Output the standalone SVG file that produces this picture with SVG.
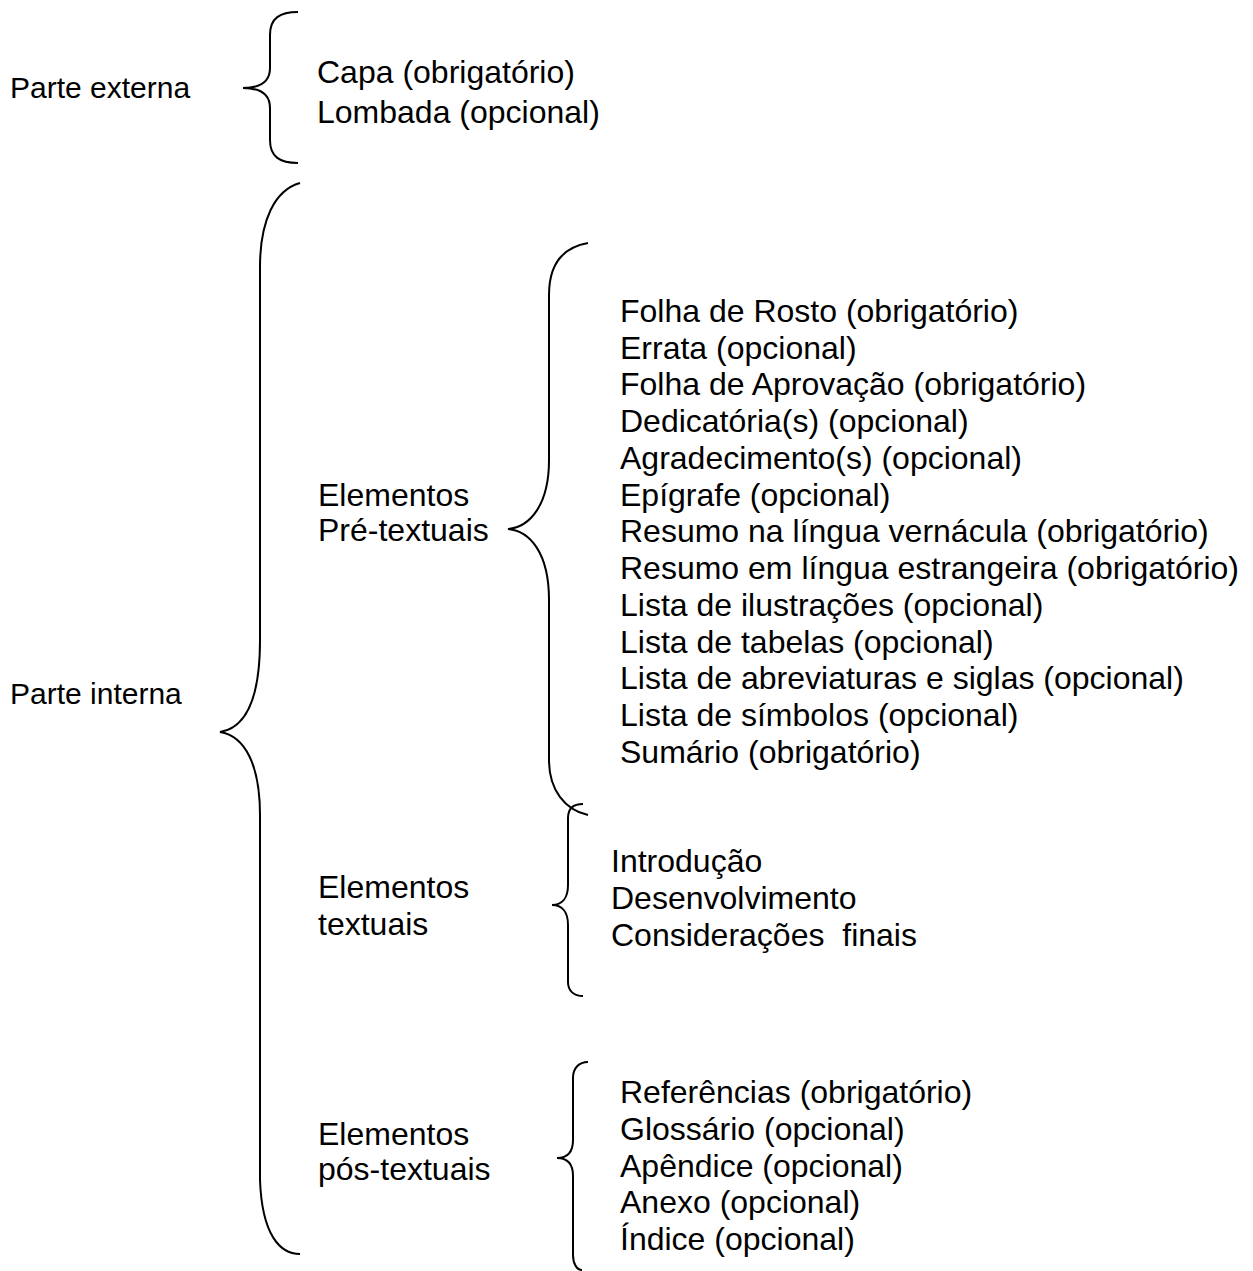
<svg xmlns="http://www.w3.org/2000/svg" width="1253" height="1271" viewBox="0 0 1253 1271">
<style>
text{font-family:"Liberation Sans",Arial,sans-serif;font-size:32px;fill:#000;white-space:pre}
.lbl{font-size:30px}
.brace{fill:none;stroke:#000;stroke-width:2}
</style>
<rect width="1253" height="1271" fill="#fff"/>
<g id="connectors">
<path class="brace" d="M298,12 C280,12 270,18 270,35 L270,68 C270,82 260,88 243,88 C260,88 270,94 270,108 L270,140 C270,157 280,163 298,163"/>
<path class="brace" d="M300,183 C275,190 260,220 260,267 L260,640 C260,700 245,728 220,732 C245,736 260,765 260,815 L260,1180 C262,1235 280,1254 300,1254"/>
<path class="brace" d="M588,243 C565,247 549,262 549,295 L549,460 C549,505 530,527 508,529 C530,531 549,553 549,600 L549,760 C549,790 565,810 588,815"/>
<path class="brace" d="M583,804 C574,804 568,808 568,818 L568,885 C568,898 562,905 552,905 C562,905 568,912 568,925 L568,982 C568,991 574,996 583,996"/>
<path class="brace" d="M588,1062 C579,1062 573,1068 573,1078 L573,1140 C573,1152 567,1158 557,1158 C567,1158 573,1164 573,1176 L573,1255 C573,1264 577,1270 582,1270"/>
</g>
<g id="parte-externa"><text class="lbl" x="10" y="98">Parte externa</text></g>
<g id="externa-itens">
<text x="317" y="83">Capa (obrigatório)</text>
<text x="317" y="123">Lombada (opcional)</text>
</g>
<g id="parte-interna"><text class="lbl" x="10" y="704">Parte interna</text></g>
<g id="pre-textuais">
<text x="318" y="506">Elementos</text>
<text x="318" y="541">Pré-textuais</text>
</g>
<g id="pre-itens">
<text x="620" y="322">Folha de Rosto (obrigatório)</text>
<text x="620" y="359">Errata (opcional)</text>
<text x="620" y="395">Folha de Aprovação (obrigatório)</text>
<text x="620" y="432">Dedicatória(s) (opcional)</text>
<text x="620" y="469">Agradecimento(s) (opcional)</text>
<text x="620" y="506">Epígrafe (opcional)</text>
<text x="620" y="542">Resumo na língua vernácula (obrigatório)</text>
<text x="620" y="579">Resumo em língua estrangeira (obrigatório)</text>
<text x="620" y="616">Lista de ilustrações (opcional)</text>
<text x="620" y="653">Lista de tabelas (opcional)</text>
<text x="620" y="689">Lista de abreviaturas e siglas (opcional)</text>
<text x="620" y="726">Lista de símbolos (opcional)</text>
<text x="620" y="763">Sumário (obrigatório)</text>
</g>
<g id="textuais">
<text x="318" y="898">Elementos</text>
<text x="318" y="935">textuais</text>
</g>
<g id="textuais-itens">
<text x="611" y="872">Introdução</text>
<text x="611" y="909">Desenvolvimento</text>
<text x="611" y="946">Considerações  finais</text>
</g>
<g id="pos-textuais">
<text x="318" y="1145">Elementos</text>
<text x="318" y="1180">pós-textuais</text>
</g>
<g id="pos-itens">
<text x="620" y="1103">Referências (obrigatório)</text>
<text x="620" y="1140">Glossário (opcional)</text>
<text x="620" y="1177">Apêndice (opcional)</text>
<text x="620" y="1213">Anexo (opcional)</text>
<text x="620" y="1250">Índice (opcional)</text>
</g>
</svg>
